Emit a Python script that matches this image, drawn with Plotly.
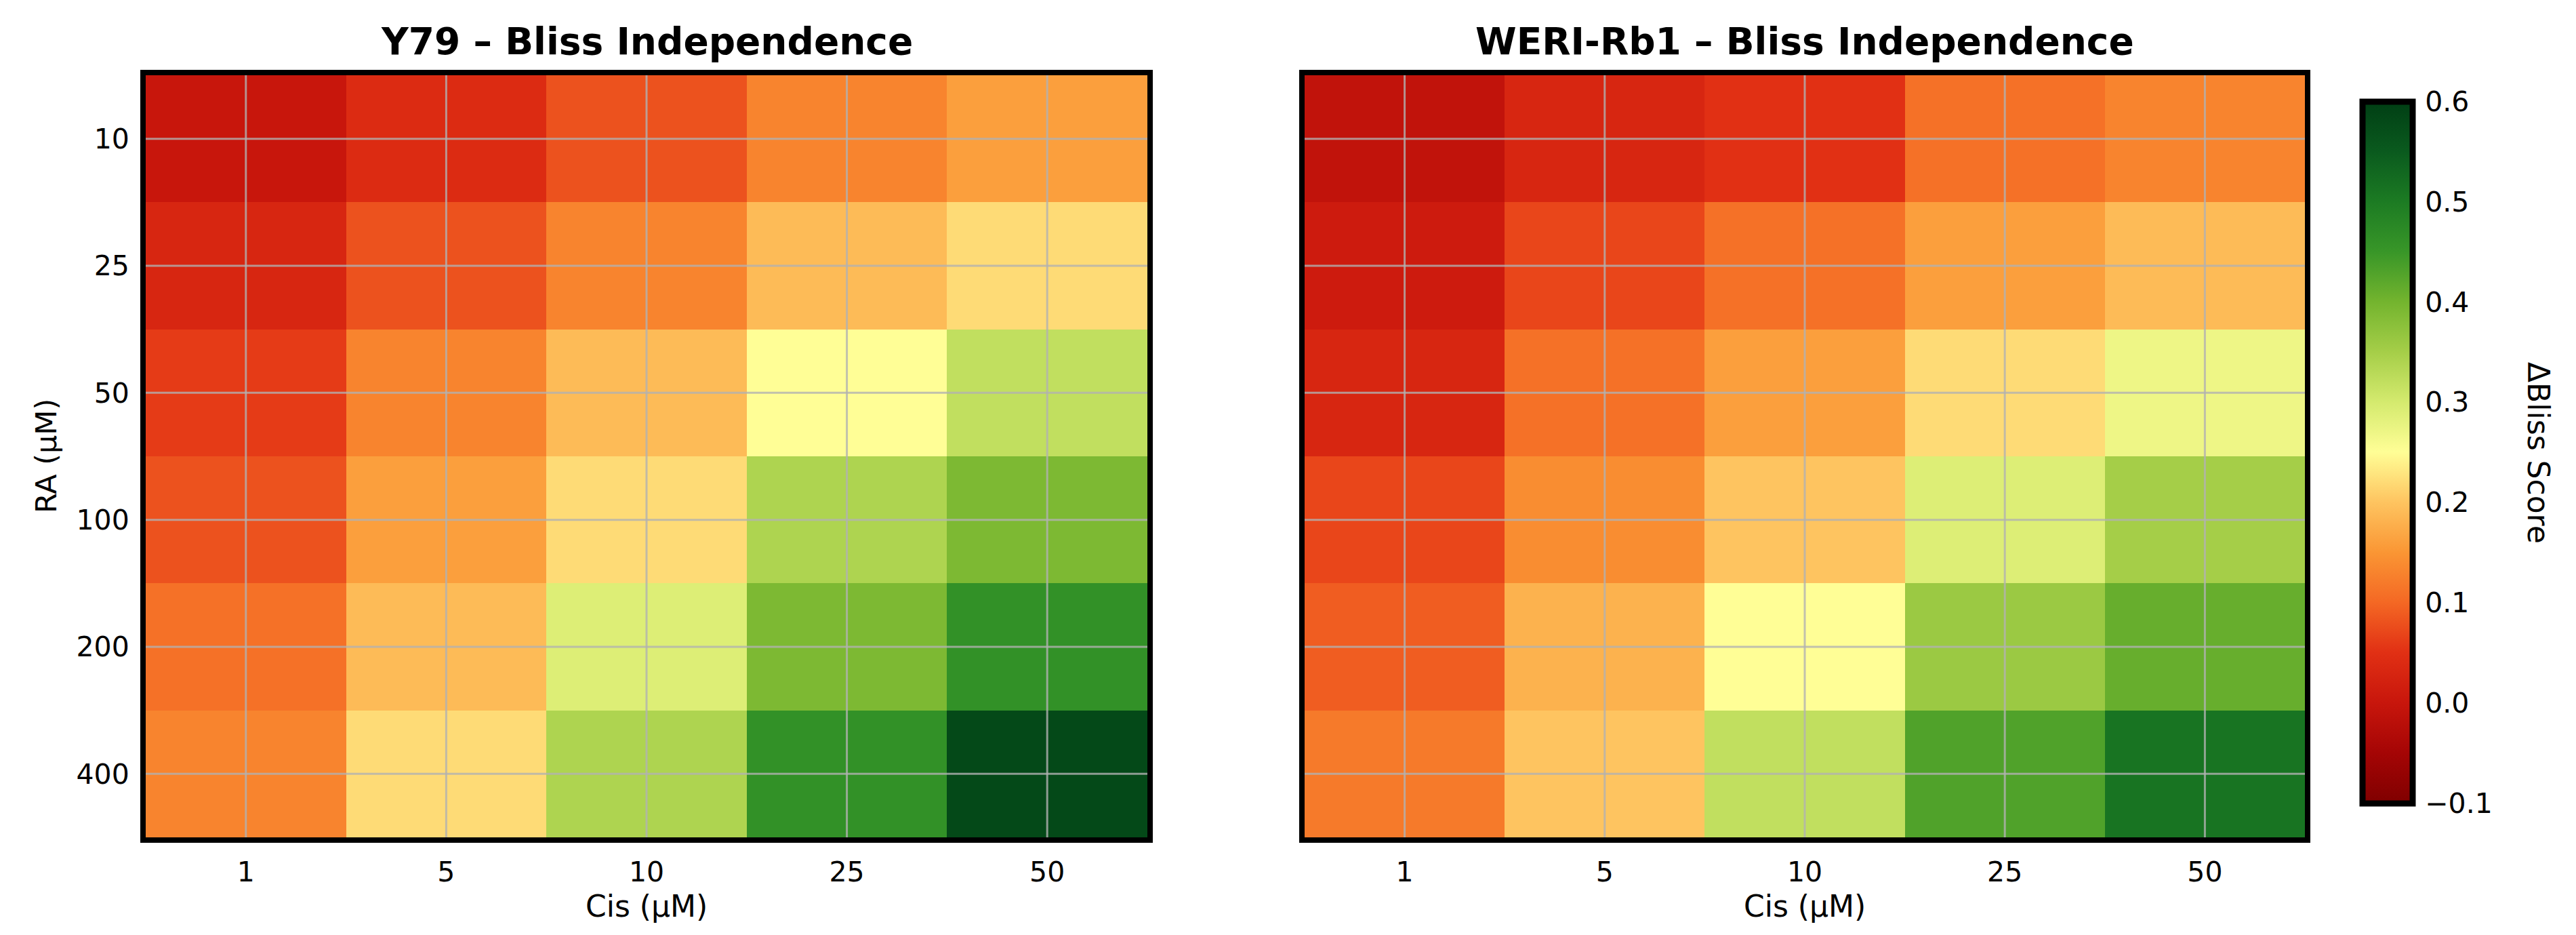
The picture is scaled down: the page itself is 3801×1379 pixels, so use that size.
import plotly.graph_objects as go

cis_labels = ["1", "5", "10", "25", "50"]
ra_labels = ["10", "25", "50", "100", "200", "400"]

y79_bliss = [
    [0.00, 0.04, 0.08, 0.13, 0.16],
    [0.03, 0.08, 0.13, 0.19, 0.22],
    [0.06, 0.13, 0.19, 0.25, 0.32],
    [0.08, 0.16, 0.22, 0.34, 0.39],
    [0.11, 0.19, 0.29, 0.39, 0.46],
    [0.13, 0.22, 0.34, 0.46, 0.58],
]
weri_bliss = [
    [-0.01, 0.03, 0.05, 0.11, 0.13],
    [0.01, 0.07, 0.11, 0.16, 0.19],
    [0.03, 0.11, 0.16, 0.22, 0.27],
    [0.07, 0.14, 0.20, 0.29, 0.35],
    [0.09, 0.18, 0.25, 0.36, 0.41],
    [0.12, 0.20, 0.32, 0.43, 0.51],
]
titles = ["Y79 – Bliss Independence", "WERI-Rb1 – Bliss Independence"]
cbar_ticks = [-0.1, 0.0, 0.1, 0.2, 0.3, 0.4, 0.5, 0.6]
zmin, zmax = -0.1, 0.6

stop_vals = [-0.1, -0.05, 0.0, 0.05, 0.1, 0.15, 0.2, 0.25, 0.3, 0.35, 0.4, 0.45, 0.5, 0.55, 0.6]
stop_cols = ["rgb(128,0,0)", "rgb(165,5,5)", "rgb(200,22,12)", "rgb(225,48,20)",
             "rgb(244,104,36)", "rgb(250,150,52)", "rgb(254,196,96)", "rgb(255,254,150)",
             "rgb(212,234,110)", "rgb(165,206,72)", "rgb(115,180,46)", "rgb(56,150,40)",
             "rgb(28,123,35)", "rgb(10,90,30)", "rgb(0,62,20)"]
colorscale = [[(v - zmin) / (zmax - zmin), c] for v, c in zip(stop_vals, stop_cols)]

W, H = 3801, 1379
ml, mr, mt, mb = 207, W - 3393, 103, H - 1227
pw, ph = W - ml - mr, H - mt - mb
dom1 = [0, (1685 - ml) / pw]
dom2 = [(1917 - ml) / pw, 1]

FONT = "DejaVu Sans"
fig = go.Figure()
for i, z in enumerate([y79_bliss, weri_bliss]):
    fig.add_trace(go.Heatmap(
        z=z, x=cis_labels, y=ra_labels, coloraxis="coloraxis",
        xaxis="x" if i == 0 else "x2", yaxis="y" if i == 0 else "y2",
        xgap=0, ygap=0, hoverinfo="skip",
    ))

axis_common = dict(showline=True, mirror=True, linewidth=8, linecolor="black",
                   showgrid=False, zeroline=False, ticks="outside", ticklen=8,
                   tickcolor="rgba(0,0,0,0)", tickfont=dict(family=FONT, size=41, color="black"))
fig.update_layout(
    width=W, height=H, paper_bgcolor="white", plot_bgcolor="white",
    margin=dict(l=ml, r=mr, t=mt, b=mb),
    font=dict(family=FONT, color="black"),
    xaxis=dict(domain=dom1, type="category", anchor="y", **axis_common),
    yaxis=dict(domain=[0, 1], type="category", autorange="reversed", anchor="x", **axis_common),
    xaxis2=dict(domain=dom2, type="category", anchor="y2", **axis_common),
    yaxis2=dict(domain=[0, 1], type="category", autorange="reversed", anchor="x2",
                showticklabels=False, **axis_common),
    coloraxis=dict(
        cmin=zmin, cmax=zmax, colorscale=colorscale,
        colorbar=dict(
            x=(3478 - ml) / pw, xanchor="left", xpad=0,
            y=(1227 - 659) / ph, yanchor="middle", ypad=0,
            lenmode="pixels", len=1035, thicknessmode="pixels", thickness=74,
            outlinewidth=9, outlinecolor="black",
            tickvals=cbar_ticks, tickformat=".1f",
            ticks="outside", ticklen=6, tickcolor="rgba(0,0,0,0)",
            tickfont=dict(family=FONT, size=41, color="black"),
        ),
    ),
    showlegend=False,
)

shapes = []
for xa, ya in [("x", "y"), ("x2", "y2")]:
    for j, _ in enumerate(cis_labels):
        shapes.append(dict(type="line", xref=xa, yref=ya + " domain", x0=j, x1=j, y0=0, y1=1,
                           line=dict(color="rgba(178,178,178,0.8)", width=3), layer="above"))
    for k, _ in enumerate(ra_labels):
        shapes.append(dict(type="line", xref=xa + " domain", yref=ya, x0=0, x1=1, y0=k, y1=k,
                           line=dict(color="rgba(178,178,178,0.8)", width=3), layer="above"))
fig.update_layout(shapes=shapes)

ann = []
for dom, t in zip([dom1, dom2], titles):
    cx = (dom[0] + dom[1]) / 2
    ann.append(dict(text="<b>" + t + "</b>", x=cx, y=1 + (103 - 53) / ph, xref="paper", yref="paper",
                    xanchor="center", yanchor="middle", showarrow=False,
                    font=dict(family=FONT, size=55, color="black")))
    ann.append(dict(text="Cis (µM)", x=cx, y=(1227 - 1328) / ph, xref="paper", yref="paper",
                    xanchor="center", yanchor="middle", showarrow=False,
                    font=dict(family=FONT, size=44, color="black")))
ann.append(dict(text="RA (µM)", x=(60 - ml) / pw, y=(1227 - 665) / ph, xref="paper", yref="paper",
                xanchor="center", yanchor="middle", textangle=-90, showarrow=False,
                font=dict(family=FONT, size=43, color="black")))
ann.append(dict(text="ΔBliss Score", x=(3738 - ml) / pw, y=(1227 - 660) / ph, xref="paper", yref="paper",
                xanchor="center", yanchor="middle", textangle=90, showarrow=False,
                font=dict(family=FONT, size=44, color="black")))
fig.update_layout(annotations=ann)

fig.write_html("out.html")
